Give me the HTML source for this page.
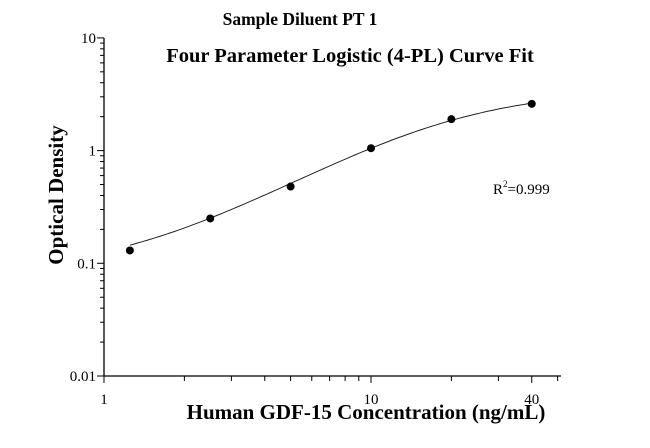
<!DOCTYPE html>
<html><head><meta charset="utf-8"><style>
html,body{margin:0;padding:0;background:#fff;}
svg{display:block;font-family:"Liberation Serif",serif;}
</style></head><body>
<svg id="chart" width="650" height="448" viewBox="0 0 650 448">
<text x="300" y="25" font-size="17.5" font-weight="bold" text-anchor="middle">Sample Diluent PT 1</text>
<text x="350" y="62" font-size="20.5" font-weight="bold" text-anchor="middle">Four Parameter Logistic (4-PL) Curve Fit</text>
<text x="366" y="419" font-size="21" font-weight="bold" text-anchor="middle">Human GDF-15 Concentration (ng/mL)</text>
<text transform="translate(63,195) rotate(-90)" font-size="21" font-weight="bold" text-anchor="middle">Optical Density</text>
<text x="493" y="194" font-size="15">R<tspan font-size="9" dy="-7">2</tspan><tspan dy="7">=0.999</tspan></text>
<g id="axes"></g>
<g id="marks"></g>
</svg>
<script>
const xValues=[1.25,2.5,5,10,20,40];
const yValues=[0.13,0.25,0.48,1.05,1.9,2.6];
const xTickLabels=["1","10","40"];
const xTickValues=[1,10,40];
const yTickLabels=["0.01","0.1","1","10"];
const yTickValues=[0.01,0.1,1,10];
const fitA=0.08, fitB=1.45, fitC=19, fitD=3.5;

const X0=104, XD=267, Y0=376, YD=112.7;
const sx=v=>X0+XD*Math.log10(v);
const sy=v=>Y0-YD*(Math.log10(v)+2);
const NS="http://www.w3.org/2000/svg";
const axes=document.getElementById('axes'), marks=document.getElementById('marks');
function mk(tag,attrs,parent){const e=document.createElementNS(NS,tag);for(const k in attrs)e.setAttribute(k,attrs[k]);parent.appendChild(e);return e;}

let e=mk('line',{x1:X0,y1:Y0,x2:561,y2:Y0,stroke:'#000','stroke-width':1.3},axes);


e=mk('line',{x1:X0,y1:Y0,x2:X0,y2:sy(10),stroke:'#000','stroke-width':1.3},axes);



for(let d=1;d<=10;d*=10){for(let m=1;m<10;m++){const v=d*m;if(v>50)break;
 const major=(v===1||v===10||v===40);
 e=mk('line',{x1:sx(v),y1:Y0,x2:sx(v),y2:Y0+(major?7:5),stroke:'#000','stroke-width':1},axes);
 
 }}
xTickValues.forEach((v,i)=>{const t=mk('text',{x:sx(v),y:Y0+28,'font-size':15,'text-anchor':'middle'},axes);t.textContent=xTickLabels[i];
 
 });
for(let d=0.01;d<10;d*=10){for(let m=1;m<10;m++){const v=d*m;
 e=mk('line',{x1:X0,y1:sy(v),x2:X0-(m===1?7:4),y2:sy(v),stroke:'#000','stroke-width':1},axes);
 
 }}
e=mk('line',{x1:X0,y1:sy(10),x2:X0-7,y2:sy(10),stroke:'#000','stroke-width':1},axes);


yTickValues.forEach((v,i)=>{const t=mk('text',{x:X0-8,y:sy(v)+5,'font-size':15,'text-anchor':'end'},axes);t.textContent=yTickLabels[i];
 
 });

const f=x=>fitD+(fitA-fitD)/(1+Math.pow(x/fitC,fitB));
let d='';const lo=Math.log10(xValues[0]),hi=Math.log10(xValues[xValues.length-1]);
for(let i=0;i<=100;i++){const x=Math.pow(10,lo+(hi-lo)*i/100);d+=(i?'L':'M')+sx(x).toFixed(1)+','+sy(f(x)).toFixed(1);}
e=mk('path',{d:d,fill:'none',stroke:'#222','stroke-width':1},marks);


xValues.forEach((x,i)=>{const c=mk('circle',{cx:sx(x),cy:sy(yValues[i]),r:4,fill:'#000'},marks);
 
 });
</script>
</body></html>
